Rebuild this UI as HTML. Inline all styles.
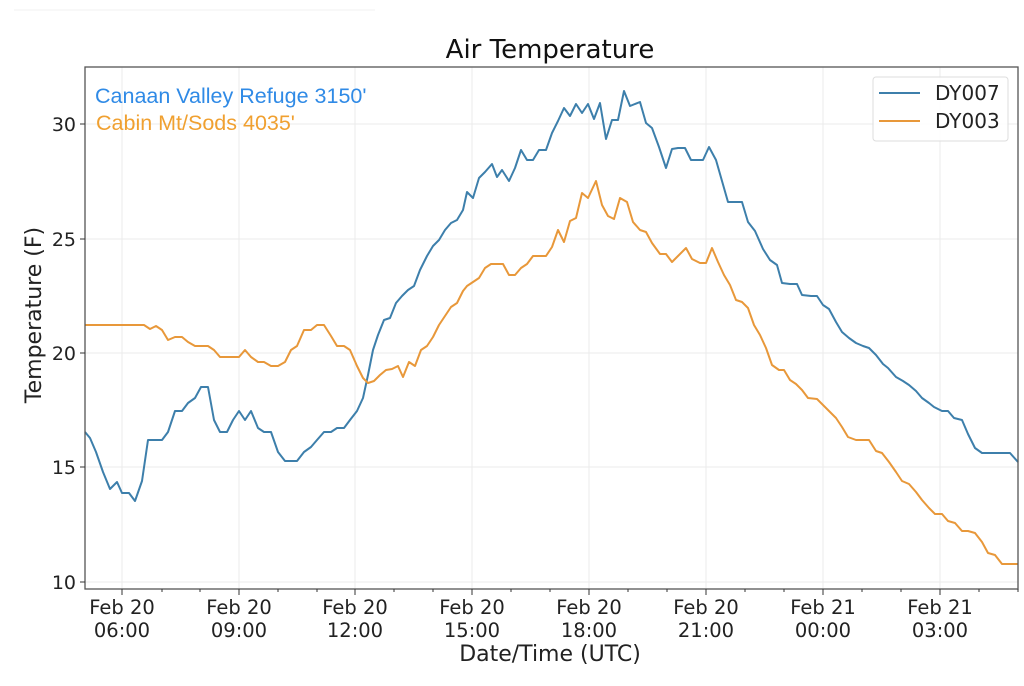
<!DOCTYPE html>
<html><head><meta charset="utf-8"><style>
html,body{margin:0;padding:0;background:#fff;}
svg{display:block;font-family:"DejaVu Sans","Liberation Sans",sans-serif;}
</style></head><body>
<svg width="1024" height="686" viewBox="0 0 1024 686">
<line x1="14" y1="10" x2="375" y2="10" stroke="#f0f0f0" stroke-width="1"/>
<text x="550" y="58" font-size="26" text-anchor="middle" fill="#111">Air Temperature</text>
<!-- grid -->
<g stroke="#ebebeb" stroke-width="1">
<line x1="122" y1="67" x2="122" y2="589"/><line x1="239" y1="67" x2="239" y2="589"/>
<line x1="355" y1="67" x2="355" y2="589"/><line x1="472" y1="67" x2="472" y2="589"/>
<line x1="589" y1="67" x2="589" y2="589"/><line x1="706" y1="67" x2="706" y2="589"/>
<line x1="823" y1="67" x2="823" y2="589"/><line x1="940" y1="67" x2="940" y2="589"/>
<line x1="85" y1="124" x2="1018" y2="124"/><line x1="85" y1="239" x2="1018" y2="239"/>
<line x1="85" y1="353" x2="1018" y2="353"/><line x1="85" y1="467" x2="1018" y2="467"/>
<line x1="85" y1="582" x2="1018" y2="582"/>
</g>
<polyline fill="none" stroke="#3d7fab" stroke-width="2" stroke-linejoin="round" points="85,432 90,438 96,452 103,472 110,489 117,482 122,493 129,493 135,501 142,481 148,440 155,440 162,440 168,432 175,411 182,411 188,403 195,398 201,387 208,387 214,420 220,432 227,432 233,420 239,411 245,420 251,411 258,428 264,432 271,432 278,452 285,461 297,461 304,452 311,447 317,440 324,432 331,432 337,428 344,428 350,420 357,411 363,398 368,375 373,350 378,335 384,320 390,318 396,303 402,296 408,290 414,286 420,270 427,256 433,246 439,240 445,230 451,223 457,220 463,210 467,192 473,198 479,178 485,172 492,164 497,177 502,170 509,181 515,168 521,150 527,160 533,160 539,150 546,150 552,133 558,121 564,108 570,116 576,104 582,113 588,104 594,119 600,103 606,139 612,120 618,120 624,91 630,106 640,102 646,123 652,128 659,147 666,168 672,149 678,148 685,148 691,160 697,160 703,160 709,147 716,160 722,181 728,202 734,202 742,202 748,222 755,231 763,249 770,260 777,265 782,283 790,284 797,284 802,295 811,296 817,296 823,305 829,309 836,322 842,332 849,338 856,343 863,346 869,348 876,355 883,364 888,368 896,377 903,381 909,385 916,391 922,398 929,403 934,407 942,411 948,411 954,418 962,420 968,434 975,448 982,453 992,453 1003,453 1010,453 1018,462"/>
<polyline fill="none" stroke="#e8983a" stroke-width="2" stroke-linejoin="round" points="85,325 144,325 150,329 156,326 162,330 168,340 175,337 182,337 188,342 195,346 201,346 208,346 214,350 220,357 227,357 233,357 239,357 245,350 251,357 258,362 264,362 271,366 278,366 285,362 291,350 297,346 304,330 311,330 317,325 324,325 331,336 337,346 344,346 350,350 357,366 363,378 368,383 374,381 380,375 386,370 392,369 398,366 403,377 409,362 415,366 421,350 427,346 433,337 439,325 445,316 451,307 457,303 463,291 467,286 473,282 479,278 485,268 491,264 497,264 503,264 509,275 515,275 521,268 527,264 533,256 539,256 546,256 552,247 558,230 564,242 570,221 576,218 582,193 588,198 596,181 602,205 608,216 614,219 620,198 627,202 633,222 640,230 646,232 652,243 660,254 666,254 672,262 678,256 686,248 692,259 700,263 706,263 712,248 718,262 724,275 730,285 736,300 742,302 748,308 754,325 760,335 766,348 772,365 779,370 784,370 790,380 796,384 802,390 808,398 817,399 823,405 829,411 836,418 842,427 848,437 856,440 863,440 869,440 876,451 882,453 889,462 896,472 902,481 909,484 916,492 922,500 929,508 935,514 942,514 948,521 955,523 962,531 968,531 975,533 982,542 988,553 995,555 1002,564 1010,564 1018,564"/>
<rect x="85" y="67" width="933" height="522" fill="none" stroke="#555" stroke-width="1.3"/>
<!-- ticks -->
<g stroke="#333" stroke-width="1">
<line x1="80" y1="124" x2="85" y2="124"/><line x1="80" y1="239" x2="85" y2="239"/>
<line x1="80" y1="353" x2="85" y2="353"/><line x1="80" y1="467" x2="85" y2="467"/>
<line x1="80" y1="582" x2="85" y2="582"/>
<line x1="122" y1="589" x2="122" y2="595"/><line x1="239" y1="589" x2="239" y2="595"/>
<line x1="355" y1="589" x2="355" y2="595"/><line x1="472" y1="589" x2="472" y2="595"/>
<line x1="589" y1="589" x2="589" y2="595"/><line x1="706" y1="589" x2="706" y2="595"/>
<line x1="823" y1="589" x2="823" y2="595"/><line x1="940" y1="589" x2="940" y2="595"/>
<line x1="162" y1="589" x2="162" y2="592"/><line x1="200" y1="589" x2="200" y2="592"/>
<line x1="278" y1="589" x2="278" y2="592"/><line x1="317" y1="589" x2="317" y2="592"/>
<line x1="394" y1="589" x2="394" y2="592"/><line x1="433" y1="589" x2="433" y2="592"/>
<line x1="511" y1="589" x2="511" y2="592"/><line x1="550" y1="589" x2="550" y2="592"/>
<line x1="628" y1="589" x2="628" y2="592"/><line x1="667" y1="589" x2="667" y2="592"/>
<line x1="745" y1="589" x2="745" y2="592"/><line x1="784" y1="589" x2="784" y2="592"/>
<line x1="862" y1="589" x2="862" y2="592"/><line x1="901" y1="589" x2="901" y2="592"/>
<line x1="979" y1="589" x2="979" y2="592"/><line x1="1018" y1="589" x2="1018" y2="592"/>
</g>
<g font-size="19" fill="#222" text-anchor="end">
<text x="76" y="131">30</text><text x="76" y="246">25</text><text x="76" y="360">20</text>
<text x="76" y="474">15</text><text x="76" y="589">10</text>
</g>
<g font-size="19.5" fill="#222" text-anchor="middle">
<text x="122" y="614">Feb 20</text><text x="122" y="637">06:00</text>
<text x="239" y="614">Feb 20</text><text x="239" y="637">09:00</text>
<text x="355" y="614">Feb 20</text><text x="355" y="637">12:00</text>
<text x="472" y="614">Feb 20</text><text x="472" y="637">15:00</text>
<text x="589" y="614">Feb 20</text><text x="589" y="637">18:00</text>
<text x="706" y="614">Feb 20</text><text x="706" y="637">21:00</text>
<text x="823" y="614">Feb 21</text><text x="823" y="637">00:00</text>
<text x="940" y="614">Feb 21</text><text x="940" y="637">03:00</text>
</g>
<text x="550" y="661" font-size="22" text-anchor="middle" fill="#222">Date/Time (UTC)</text>
<text transform="translate(41,315) rotate(-90)" font-size="22" text-anchor="middle" fill="#222">Temperature (F)</text>
<text x="95" y="103" font-size="21.5" fill="#2f8ae6" font-family="Liberation Sans,sans-serif">Canaan Valley Refuge 3150'</text>
<text x="96" y="130" font-size="21.5" fill="#f0a030" font-family="Liberation Sans,sans-serif">Cabin Mt/Sods 4035'</text>
<rect x="873" y="77" width="135" height="64" rx="3" fill="#fff" fill-opacity="0.85" stroke="#ddd"/>
<line x1="879" y1="93" x2="920" y2="93" stroke="#3d7fab" stroke-width="2"/>
<line x1="879" y1="121" x2="920" y2="121" stroke="#e8983a" stroke-width="2"/>
<text x="935" y="100" font-size="20" fill="#222">DY007</text>
<text x="935" y="128" font-size="20" fill="#222">DY003</text>
</svg>
</body></html>
